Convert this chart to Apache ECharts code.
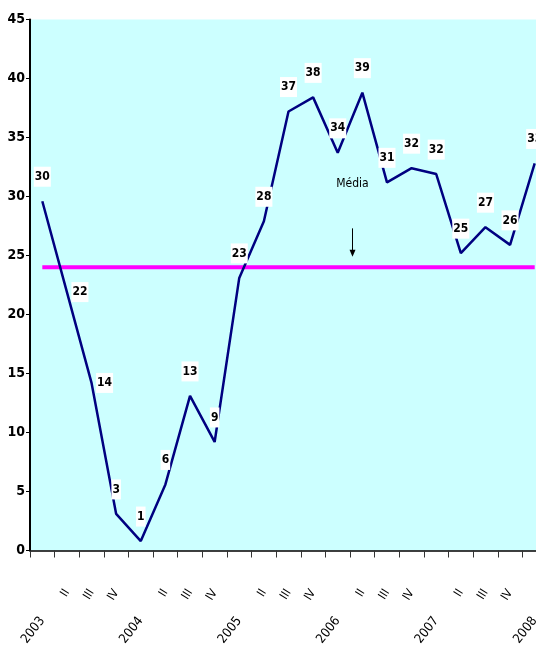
<!DOCTYPE html>
<html><head><meta charset="utf-8">
<script src="https://cdn.jsdelivr.net/npm/echarts@6/dist/echarts.min.js"></script>
<style>html,body{margin:0;padding:0;background:#fff;overflow:hidden}#c{width:536px;height:649px}</style>
</head><body><div id="c"></div>
<script>
// ---- data ----
const categories = ['2003','II','III','IV','2004','II','III','IV','2005','II','III','IV','2006','II','III','IV','2007','II','III','IV','2008'];
const values = [29.6,21.9,14.2,3.1,0.8,5.6,13.1,9.2,23.1,27.9,37.2,38.4,33.7,38.8,31.2,32.4,31.9,25.2,27.4,25.9,32.8];
const mediaValue = 24;
const mediaLabel = 'Média';
const yMin = 0, yMax = 45, yStep = 5;

// ---- chart ----
const FONT = '"Liberation Sans Narrow","DejaVu Sans Condensed","Liberation Sans",Arial,sans-serif';
const chart = echarts.init(document.getElementById('c'), null, {renderer:'canvas'});
const isYear = s => /^\d{4}$/.test(s);
const sideLabels = new Set([1, 2]);
const lineData = values.map((v, i) => sideLabels.has(i)
  ? {value: v, label: {position: 'right', distance: 4}}
  : {value: v});

chart.setOption({
  animation: false,
  backgroundColor: '#ffffff',
  grid: {left: 30, top: 19.5, width: 517, height: 531, show: true, backgroundColor: '#ccffff', borderWidth: 0,
    containLabel: false, outerBoundsMode: 'none'},
  xAxis: [{
    type: 'category', data: categories, position: 'bottom', boundaryGap: true,
    axisLine: {lineStyle: {color: '#000', width: 1.5}},
    axisTick: {show: true, length: 7, lineStyle: {color: '#333'}, interval: 0},
    axisLabel: {interval: 0, rotate: 58, margin: 40, fontSize: 12, fontFamily: FONT, color: '#000',
      formatter: v => isYear(v) ? '' : v},
    splitLine: {show: false}
  }, {
    type: 'category', data: categories, position: 'bottom', boundaryGap: true,
    axisLine: {show: false}, axisTick: {show: false},
    axisLabel: {interval: 0, rotate: 52, margin: 68, fontSize: 13, fontFamily: FONT, color: '#000',
      formatter: v => isYear(v) ? v : ''},
    splitLine: {show: false}
  }],
  yAxis: {
    type: 'value', min: yMin, max: yMax, interval: yStep,
    axisLine: {show: true, lineStyle: {color: '#000', width: 2}},
    axisTick: {show: true, length: 4, lineStyle: {color: '#000'}},
    axisLabel: {fontSize: 14, fontWeight: 'bold', fontFamily: FONT, color: '#000', margin: 5},
    splitLine: {show: false}
  },
  series: [{
    type: 'line', data: categories.map(() => mediaValue), xAxisIndex: 0,
    symbol: 'none', lineStyle: {color: '#ff00ff', width: 4}, z: 2, silent: true
  }, {
    type: 'line', data: lineData, xAxisIndex: 0,
    symbol: 'circle', symbolSize: 1, showSymbol: true, itemStyle: {color: 'rgba(0,0,128,0)'},
    lineStyle: {color: '#000080', width: 2.5}, z: 3,
    labelLayout: {hideOverlap: false},
    label: {show: true, position: 'top', distance: 14, formatter: p => Math.round(p.value),
      fontSize: 12, fontWeight: 'bold', fontFamily: FONT, color: '#000',
      backgroundColor: '#fff', padding: [4, 1, 4, 1]}
  }]
});

// annotation "Média" with arrow, positioned through the axes
function px(idx, val) {
  const a = chart.convertToPixel({xAxisIndex: 0, yAxisIndex: 0}, [Math.floor(idx), val]);
  const b = chart.convertToPixel({xAxisIndex: 0, yAxisIndex: 0}, [Math.floor(idx) + 1, val]);
  const f = idx - Math.floor(idx);
  return [a[0] + (b[0] - a[0]) * f, a[1]];
}
const mIdx = 12.6;
const tPos = px(mIdx, 31.1);
const aTop = px(mIdx, 27.3);
const aBot = px(mIdx, 24.9);
chart.setOption({graphic: [
  {type: 'text', x: tPos[0], y: tPos[1], style: {text: mediaLabel, fontSize: 12, fontFamily: FONT, fill: '#000', align: 'center', verticalAlign: 'middle'}, z: 10},
  {type: 'line', shape: {x1: aTop[0], y1: aTop[1], x2: aBot[0], y2: aBot[1] - 6}, style: {stroke: '#000', lineWidth: 1}, z: 10},
  {type: 'polygon', shape: {points: [[aBot[0] - 3, aBot[1] - 7], [aBot[0] + 3, aBot[1] - 7], [aBot[0], aBot[1]]]}, style: {fill: '#000'}, z: 10}
]});
</script></body></html>
